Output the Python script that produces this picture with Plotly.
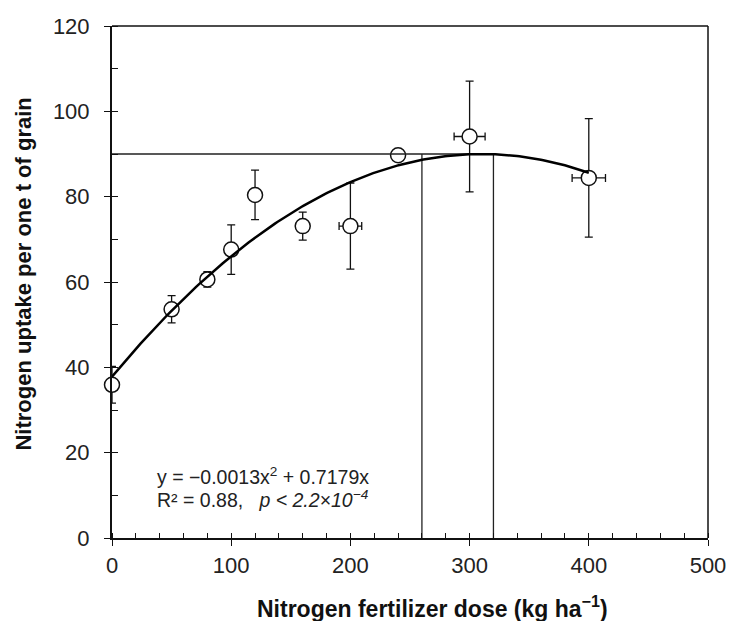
import numpy as np
import plotly.graph_objects as go

# ---- data ----
dose = [0, 50, 80, 100, 120, 160, 200, 240, 300, 400]
uptake = [35.9, 53.6, 60.6, 67.6, 80.4, 73.1, 73.1, 89.7, 94.1, 84.4]
err_y = [4.3, 3.2, 1.8, 5.8, 5.8, 3.3, 10.1, 0.8, 13.0, 13.9]
err_x = [0, 0, 0, 0, 0, 0, 9.5, 0, 13.0, 14.0]

# fitted quadratic trend (as drawn)
fit_a = -0.000543
fit_b = 0.3367
fit_c = 37.8
fit_range = [0, 400]

# reference lines
opt_level = 90
dose_low = 260
dose_opt = 320

x_ticks = [0, 100, 200, 300, 400, 500]
y_ticks = [0, 20, 40, 60, 80, 100, 120]

FONT = "Arial, Liberation Sans, sans-serif"
INK = "#111111"

xf = np.linspace(fit_range[0], fit_range[1], 200)
yf = fit_a * xf ** 2 + fit_b * xf + fit_c

fig = go.Figure()

fig.add_trace(go.Scatter(
    x=dose, y=uptake, mode="markers",
    marker=dict(symbol="circle", size=15, color="white",
                line=dict(color=INK, width=1.5)),
    error_y=dict(type="data", array=err_y, visible=True, color=INK,
                 thickness=1.3, width=4),
    error_x=dict(type="data", array=err_x, visible=True, color=INK,
                 thickness=1.3, width=4),
    cliponaxis=False, showlegend=False, hoverinfo="x+y",
))

fig.add_trace(go.Scatter(
    x=[0, dose_opt, dose_opt, None, dose_low, dose_low],
    y=[opt_level, opt_level, 0, None, opt_level, 0],
    mode="lines", line=dict(color="#222222", width=1.3),
    showlegend=False, hoverinfo="skip", cliponaxis=False,
))

fig.add_trace(go.Scatter(
    x=xf, y=yf, mode="lines", line=dict(color="black", width=2.5),
    showlegend=False, hoverinfo="skip", cliponaxis=False,
))

# invisible trace on overlay axes (inside part of crossing major ticks)
fig.add_trace(go.Scatter(x=[None], y=[None], xaxis="x2", yaxis="y2",
                         showlegend=False, hoverinfo="skip"))

fig.update_layout(
    template="none",
    width=729, height=621,
    margin=dict(l=112, r=21, t=26, b=83, autoexpand=False),
    paper_bgcolor="white", plot_bgcolor="white",
    font=dict(family=FONT, color=INK),
    xaxis=dict(
        range=[0, 500], tickvals=x_ticks, ticks="outside", ticklen=6,
        tickwidth=1.3, tickcolor=INK, showgrid=False, zeroline=False,
        showline=True, linecolor=INK, linewidth=2, automargin=False,
        tickfont=dict(size=22, family=FONT, color="#222222"),
        minor=dict(ticks="inside", dtick=20, tick0=0, ticklen=5,
                   tickwidth=1.3, tickcolor=INK, showgrid=False),
        ticklabelstandoff=1,
    ),
    yaxis=dict(
        range=[0, 120], tickvals=y_ticks, ticks="outside", ticklen=6,
        tickwidth=1.3, tickcolor=INK, showgrid=False, zeroline=False,
        showline=True, linecolor=INK, linewidth=2, automargin=False,
        tickfont=dict(size=22, family=FONT, color="#222222"),
        minor=dict(ticks="inside", dtick=10, tick0=0, ticklen=6,
                   tickwidth=1.3, tickcolor=INK, showgrid=False),
        ticklabelstandoff=10,
    ),
    xaxis2=dict(overlaying="x", anchor="y2", side="bottom", range=[0, 500],
                tickvals=x_ticks, ticks="inside", ticklen=5, tickwidth=1.3,
                tickcolor=INK, showticklabels=False, showgrid=False,
                zeroline=False, showline=False, automargin=False),
    yaxis2=dict(overlaying="y", anchor="x2", side="left", range=[0, 120],
                tickvals=y_ticks, ticks="inside", ticklen=6, tickwidth=1.3,
                tickcolor=INK, showticklabels=False, showgrid=False,
                zeroline=False, showline=False, automargin=False),
    shapes=[
        dict(type="line", xref="paper", yref="paper", x0=0, x1=1, y0=1, y1=1,
             line=dict(color=INK, width=1.5)),
        dict(type="line", xref="paper", yref="paper", x0=1, x1=1, y0=0, y1=1,
             line=dict(color=INK, width=1.5)),
    ],
    annotations=[
        dict(text="<b>Nitrogen fertilizer dose (kg ha<sup>−1</sup>)</b>",
             xref="paper", yref="paper", x=0.537, y=0, yshift=-69,
             xanchor="center", yanchor="middle", showarrow=False,
             font=dict(size=23, family=FONT, color="#111111")),
        dict(text="<b>Nitrogen uptake per one t of grain</b>",
             xref="paper", yref="paper", x=-0.149, y=0.515, textangle=-90,
             xanchor="center", yanchor="middle", showarrow=False,
             font=dict(size=22, family=FONT, color="#111111")),
        dict(text="y = −0.0013x<sup>2</sup> + 0.7179x",
             xref="x", yref="y", x=36, y=14.5, xanchor="left",
             yanchor="middle", showarrow=False,
             font=dict(size=19.5, family=FONT, color="#222222")),
        dict(text="R² = 0.88,\u00a0\u00a0 <i>p < 2.2×10<sup>−4</sup></i>",
             xref="x", yref="y", x=36, y=9.2, xanchor="left",
             yanchor="middle", showarrow=False,
             font=dict(size=19.5, family=FONT, color="#222222")),
    ],
)

fig.write_html("out.html")
